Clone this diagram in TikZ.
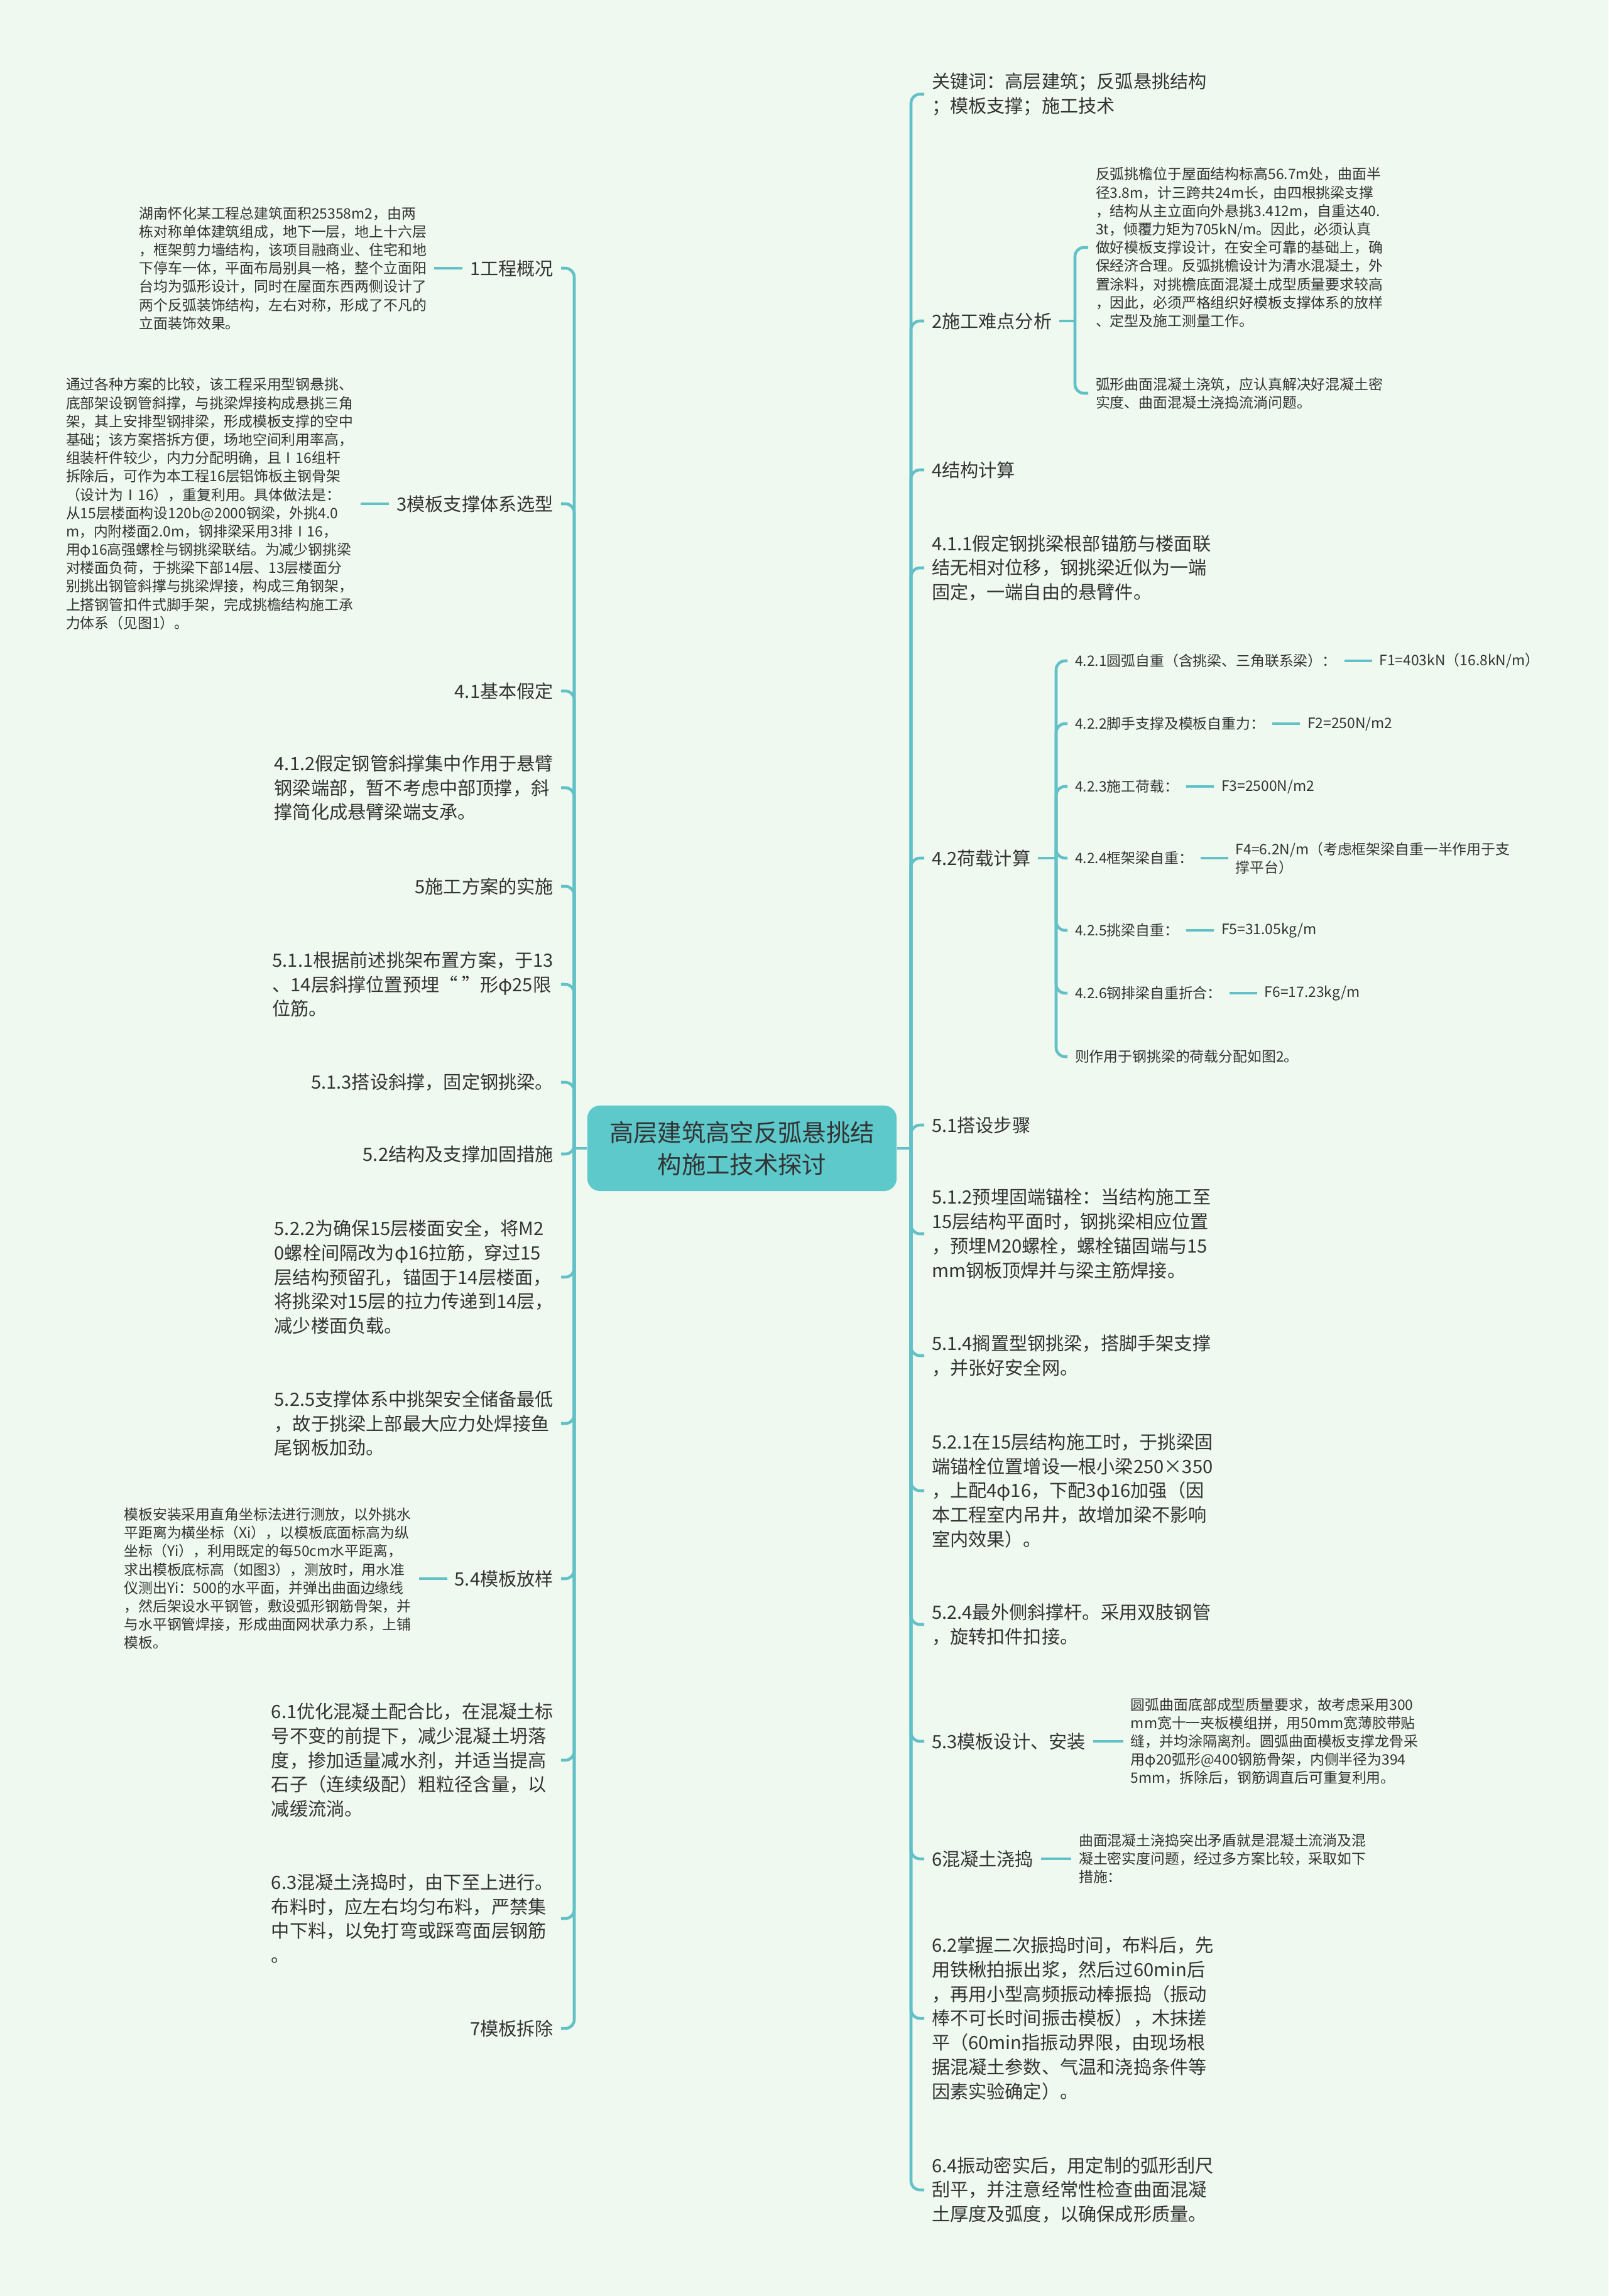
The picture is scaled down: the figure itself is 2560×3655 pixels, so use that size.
\documentclass[tikz,border=0pt]{standalone}
\usepackage{fontspec}
\setmainfont{Noto Sans CJK SC}
\usetikzlibrary{positioning}
\definecolor{paper}{RGB}{240,249,240}
\definecolor{branch}{RGB}{98,193,199}
\definecolor{hubfill}{RGB}{94,201,203}
\definecolor{ink}{RGB}{51,51,51}

\begin{document}
\begin{tikzpicture}[x=0.01cm, y=-0.01cm,
  link/.style={draw=branch, line width=1.3pt, rounded corners=0.14cm},
  hub/.style={fill=hubfill, text=ink, rounded corners=0.2cm, minimum width=4.92cm, minimum height=1.36cm, align=center, font=\fontsize{10.9pt}{14.6pt}\selectfont},
  leaf/.style={text=ink, inner sep=0pt, outer xsep=0.12cm, align=left, font=\fontsize{8.3pt}{11pt}\selectfont},
  memo/.style={text=ink, inner sep=0pt, outer xsep=0.12cm, align=left, font=\fontsize{6.5pt}{8.3pt}\selectfont}]
\fill[paper] (0,0) rectangle (2560,3655);

% centre
\node[hub] (root) at (1181,1828) {高层建筑高空反弧悬挑结\\构施工技术探讨};
\coordinate (jl) at (914,1828);
\coordinate (jr) at (1450,1828);
\draw[link] (root.west) -- (jl);
\draw[link] (root.east) -- (jr);

% left side
\node[leaf, anchor=east] (gaik) at (893,427) {1工程概况};
\node[leaf, anchor=east] (xuanx) at (893,802) {3模板支撑体系选型};
\node[leaf, anchor=east] (jiad) at (893,1100) {4.1基本假定};
\node[leaf, anchor=east] (jiadB) at (893,1254) {4.1.2假定钢管斜撑集中作用于悬臂\\钢梁端部，暂不考虑中部顶撑，斜\\撑简化成悬臂梁端支承。};
\node[leaf, anchor=east] (ssfa) at (893,1411) {5施工方案的实施};
\node[leaf, anchor=east] (ss11) at (893,1567) {5.1.1根据前述挑架布置方案，于13\\、14层斜撑位置预埋“ ”形φ25限\\位筋。};
\node[leaf, anchor=east] (ss13) at (893,1723) {5.1.3搭设斜撑，固定钢挑梁。};
\node[leaf, anchor=east] (jgjg) at (893,1837) {5.2结构及支撑加固措施};
\node[leaf, anchor=east] (jg22) at (893,2033) {5.2.2为确保15层楼面安全，将M2\\0螺栓间隔改为φ16拉筋，穿过15\\层结构预留孔，锚固于14层楼面，\\将挑梁对15层的拉力传递到14层，\\减少楼面负载。};
\node[leaf, anchor=east] (jg25) at (893,2266) {5.2.5支撑体系中挑架安全储备最低\\，故于挑梁上部最大应力处焊接鱼\\尾钢板加劲。};
\node[leaf, anchor=east] (fy) at (893,2513) {5.4模板放样};
\node[leaf, anchor=east] (hnt61) at (893,2802) {6.1优化混凝土配合比，在混凝土标\\号不变的前提下，减少混凝土坍落\\度，掺加适量减水剂，并适当提高\\石子（连续级配）粗粒径含量，以\\减缓流淌。};
\node[leaf, anchor=east] (hnt63) at (893,3054) {6.3混凝土浇捣时，由下至上进行。\\布料时，应左右均匀布料，严禁集\\中下料，以免打弯或踩弯面层钢筋\\。};
\node[leaf, anchor=east] (cc) at (893,3229) {7模板拆除};
\foreach \n in {gaik,xuanx,jiad,jiadB,ssfa,ss11,ss13,jgjg,jg22,jg25,fy,hnt61,hnt63,cc}
  \draw[link] (jl) |- (\n.east);

\node[memo, left=0.45cm of gaik] (gaikT) {湖南怀化某工程总建筑面积25358m2，由两\\栋对称单体建筑组成，地下一层，地上十六层\\，框架剪力墙结构，该项目融商业、住宅和地\\下停车一体，平面布局别具一格，整个立面阳\\台均为弧形设计，同时在屋面东西两侧设计了\\两个反弧装饰结构，左右对称，形成了不凡的\\立面装饰效果。};
\node[memo, left=0.45cm of xuanx] (xuanxT) {通过各种方案的比较，该工程采用型钢悬挑、\\底部架设钢管斜撑，与挑梁焊接构成悬挑三角\\架，其上安排型钢排梁，形成模板支撑的空中\\基础；该方案搭拆方便，场地空间利用率高，\\组装杆件较少，内力分配明确，且Ⅰ16组杆\\拆除后，可作为本工程16层铝饰板主钢骨架\\（设计为Ⅰ16），重复利用。具体做法是：\\从15层楼面构设120b@2000钢梁，外挑4.0\\m，内附楼面2.0m，钢排梁采用3排Ⅰ16，\\用φ16高强螺栓与钢挑梁联结。为减少钢挑梁\\对楼面负荷，于挑梁下部14层、13层楼面分\\别挑出钢管斜撑与挑梁焊接，构成三角钢架，\\上搭钢管扣件式脚手架，完成挑檐结构施工承\\力体系（见图1）。};
\node[memo, left=0.45cm of fy] (fyT) {模板安装采用直角坐标法进行测放，以外挑水\\平距离为横坐标（Xi），以模板底面标高为纵\\坐标（Yi），利用既定的每50cm水平距离，\\求出模板底标高（如图3），测放时，用水准\\仪测出Yi：500的水平面，并弹出曲面边缘线\\，然后架设水平钢管，敷设弧形钢筋骨架，并\\与水平钢管焊接，形成曲面网状承力系，上铺\\模板。};
\draw[link] (gaik.west) -- (gaikT.east);
\draw[link] (xuanx.west) -- (xuanxT.east);
\draw[link] (fy.west) -- (fyT.east);

% right side
\node[leaf, anchor=west] (keyw) at (1471,150) {关键词：高层建筑；反弧悬挑结构\\；模板支撑；施工技术};
\node[leaf, anchor=west] (nand) at (1471,511) {2施工难点分析};
\node[leaf, anchor=west] (jsjs) at (1471,748) {4结构计算};
\node[leaf, anchor=west] (js411) at (1471,904) {4.1.1假定钢挑梁根部锚筋与楼面联\\结无相对位移，钢挑梁近似为一端\\固定，一端自由的悬臂件。};
\node[leaf, anchor=west] (hzjs) at (1471,1366) {4.2荷载计算};
\node[leaf, anchor=west] (dbz) at (1471,1791) {5.1搭设步骤};
\node[leaf, anchor=west] (dbz12) at (1471,1964) {5.1.2预埋固端锚栓：当结构施工至\\15层结构平面时，钢挑梁相应位置\\，预埋M20螺栓，螺栓锚固端与15\\mm钢板顶焊并与梁主筋焊接。};
\node[leaf, anchor=west] (dbz14) at (1471,2158) {5.1.4搁置型钢挑梁，搭脚手架支撑\\，并张好安全网。};
\node[leaf, anchor=west] (jg21) at (1471,2373) {5.2.1在15层结构施工时，于挑梁固\\端锚栓位置增设一根小梁250×350\\，上配4φ16，下配3φ16加强（因\\本工程室内吊井，故增加梁不影响\\室内效果）。};
\node[leaf, anchor=west] (jg24) at (1471,2586) {5.2.4最外侧斜撑杆。采用双肢钢管\\，旋转扣件扣接。};
\node[leaf, anchor=west] (mbaz) at (1471,2772) {5.3模板设计、安装};
\node[leaf, anchor=west] (hnt) at (1471,2959) {6混凝土浇捣};
\node[leaf, anchor=west] (hnt62) at (1471,3213) {6.2掌握二次振捣时间，布料后，先\\用铁楸拍振出浆，然后过60min后\\，再用小型高频振动棒振捣（振动\\棒不可长时间振击模板），木抹搓\\平（60min指振动界限，由现场根\\据混凝土参数、气温和浇捣条件等\\因素实验确定）。};
\node[leaf, anchor=west] (hnt64) at (1471,3486) {6.4振动密实后，用定制的弧形刮尺\\刮平，并注意经常性检查曲面混凝\\土厚度及弧度，以确保成形质量。};
\foreach \n in {keyw,nand,jsjs,js411,hzjs,dbz,dbz12,dbz14,jg21,jg24,mbaz,hnt,hnt62,hnt64}
  \draw[link] (jr) |- (\n.west);

% 2 difficulties
\coordinate (jn) at (1711,511);
\node[memo, anchor=west] (nandA) at (1732,394) {反弧挑檐位于屋面结构标高56.7m处，曲面半\\径3.8m，计三跨共24m长，由四根挑梁支撑\\，结构从主立面向外悬挑3.412m，自重达40.\\3t，倾覆力矩为705kN/m。因此，必须认真\\做好模板支撑设计，在安全可靠的基础上，确\\保经济合理。反弧挑檐设计为清水混凝土，外\\置涂料，对挑檐底面混凝土成型质量要求较高\\，因此，必须严格组织好模板支撑体系的放样\\、定型及施工测量工作。};
\node[memo, anchor=west] (nandB) at (1732,626) {弧形曲面混凝土浇筑，应认真解决好混凝土密\\实度、曲面混凝土浇捣流淌问题。};
\draw[link] (nand.east) -- (jn);
\draw[link] (jn) |- (nandA.west);
\draw[link] (jn) |- (nandB.west);

% 4.2 loads
\coordinate (jh) at (1681,1366);
\node[memo, anchor=west] (h1) at (1699,1052) {4.2.1圆弧自重（含挑梁、三角联系梁）：};
\node[memo, anchor=west] (h2) at (1699,1152) {4.2.2脚手支撑及模板自重力：};
\node[memo, anchor=west] (h3) at (1699,1252) {4.2.3施工荷载：};
\node[memo, anchor=west] (h4) at (1699,1366) {4.2.4框架梁自重：};
\node[memo, anchor=west] (h5) at (1699,1481) {4.2.5挑梁自重：};
\node[memo, anchor=west] (h6) at (1699,1581) {4.2.6钢排梁自重折合：};
\node[memo, anchor=west] (h7) at (1699,1682) {则作用于钢挑梁的荷载分配如图2。};
\node[memo, right=0.44cm of h1] (f1) {F1=403kN（16.8kN/m）};
\node[memo, right=0.44cm of h2] (f2) {F2=250N/m2};
\node[memo, right=0.44cm of h3] (f3) {F3=2500N/m2};
\node[memo, right=0.44cm of h4] (f4) {F4=6.2N/m（考虑框架梁自重一半作用于支\\撑平台）};
\node[memo, right=0.44cm of h5] (f5) {F5=31.05kg/m};
\node[memo, right=0.44cm of h6] (f6) {F6=17.23kg/m};
\draw[link] (hzjs.east) -- (jh);
\foreach \n in {h1,h2,h3,h4,h5,h6,h7}
  \draw[link] (jh) |- (\n.west);
\foreach \i in {1,...,6}
  \draw[link] (h\i.east) -- (f\i.west);

% 5.3 and 6
\node[memo, right=0.48cm of mbaz] (mbazT) {圆弧曲面底部成型质量要求，故考虑采用300\\mm宽十一夹板模组拼，用50mm宽薄胶带贴\\缝，并均涂隔离剂。圆弧曲面模板支撑龙骨采\\用φ20弧形@400钢筋骨架，内侧半径为394\\5mm，拆除后，钢筋调直后可重复利用。};
\node[memo, right=0.48cm of hnt] (hntT) {曲面混凝土浇捣突出矛盾就是混凝土流淌及混\\凝土密实度问题，经过多方案比较，采取如下\\措施：};
\draw[link] (mbaz.east) -- (mbazT.west);
\draw[link] (hnt.east) -- (hntT.west);
\end{tikzpicture}
\end{document}
